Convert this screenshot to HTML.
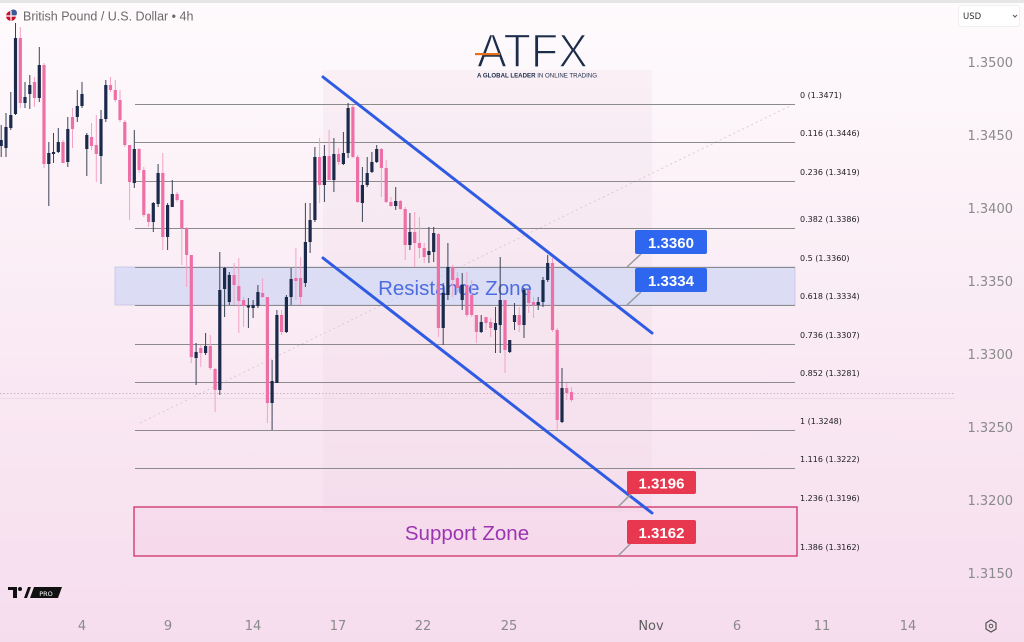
<!DOCTYPE html>
<html><head><meta charset="utf-8"><style>
html,body{margin:0;padding:0;width:1024px;height:642px;overflow:hidden;background:#fbeef5;}
svg{display:block}
</style></head><body>
<svg width="1024" height="642" viewBox="0 0 1024 642" xmlns="http://www.w3.org/2000/svg">
<defs><linearGradient id="bg" x1="0" y1="0" x2="0" y2="1"><stop offset="0" stop-color="#fefbfd"/><stop offset="0.5" stop-color="#faebf4"/><stop offset="1" stop-color="#f6ddee"/></linearGradient></defs>
<rect width="1024" height="642" fill="url(#bg)"/>
<rect width="1024" height="3" fill="#e6e6e6"/>
<!-- shaded channel area -->
<rect x="323" y="70" width="329" height="442" fill="#e8c4da" opacity="0.16"/>
<!-- resistance zone -->
<rect x="115" y="267" width="680" height="38" fill="#d9dcf6" opacity="0.9" stroke="#bcc0e4" stroke-width="0.8"/>
<!-- support zone -->
<rect x="134" y="507" width="663" height="49" fill="#f3d3e6" opacity="0.45"/>
<!-- dashed diagonal -->
<line x1="140" y1="423" x2="790" y2="106" stroke="#dccbd5" stroke-width="1" stroke-dasharray="2 3"/>
<!-- current price lines -->
<line x1="0" y1="393.5" x2="955" y2="393.5" stroke="#cdb2c2" stroke-width="1" stroke-dasharray="1.5 2"/>
<line x1="0" y1="398.5" x2="955" y2="398.5" stroke="#ecdbe5" stroke-width="1"/>
<!-- fib lines -->
<path d="M135 104.5H795M135 142.5H795M135 181.5H795M135 228.5H795M135 267.5H795M135 305.5H795M135 344.5H795M135 382.5H795M135 430.5H795M135 468.5H795" stroke="#8b8b8b" stroke-width="1" fill="none"/>
<rect x="134" y="507" width="663" height="49" fill="none" stroke="#cf2f67" stroke-width="1.3"/>
<!-- fib labels -->
<g font-family="DejaVu Sans, Liberation Sans, sans-serif" font-size="8" fill="#1c1c1c">
<text x="800" y="98">0 (1.3471)</text>
<text x="800" y="136">0.116 (1.3446)</text>
<text x="800" y="175">0.236 (1.3419)</text>
<text x="800" y="222">0.382 (1.3386)</text>
<text x="800" y="261">0.5 (1.3360)</text>
<text x="800" y="299">0.618 (1.3334)</text>
<text x="800" y="338">0.736 (1.3307)</text>
<text x="800" y="376">0.852 (1.3281)</text>
<text x="800" y="424">1 (1.3248)</text>
<text x="800" y="462">1.116 (1.3222)</text>
<text x="800" y="501">1.236 (1.3196)</text>
<text x="800" y="550">1.386 (1.3162)</text>
</g>
<!-- zone texts -->
<text x="455" y="295" text-anchor="middle" font-family="Liberation Sans, sans-serif" font-size="20.5" fill="#4c6de0">Resistance Zone</text>
<text x="467" y="540" text-anchor="middle" font-family="Liberation Sans, sans-serif" font-size="20.5" fill="#9c34b2">Support Zone</text>
<!-- wicks -->
<path fill="none" stroke="#3a4358" stroke-width="1" d="M1.2 125V157M6 113V157M10.8 92V130M15.5 23V115M25 82V108M29.8 75V109M39.3 47V102M48.8 142V206M53.5 133V163M58.3 128V153M67.8 117V167M77.3 90V122M82 82V108M86.8 133V176M101 110V184M105.8 80V122M134.3 130V188M153.3 202V232M158.1 164V207M167.6 203V250M172.3 180V207M196.1 343V385M205.6 333V355M219.8 252V395M224.6 267V317M229.3 272V305M248.4 298V328M253.1 300V318M257.9 285V308M272.1 360V430M276.9 310V383M286.4 295V333M291.1 268V305M305.4 203V287M310.1 203V253M314.9 147V222M324.4 145V202M333.9 138V192M343.4 132V165M348.1 103V158M362.4 167V222M367.2 157V187M371.9 152V173M376.7 145V163M395.7 187V210M409.9 213V250M428.9 227V263M433.7 227V262M443.2 283V345M447.9 243V300M462.2 273V310M481.2 315V333M495.5 307V353M500.2 257V353M509.7 340V353M514.5 303V330M524 288V338M538.2 297V310M543 277V307M547.7 255V282M562 368V423"/>
<path fill="none" stroke="#f2a3c6" stroke-width="1" d="M20.3 27V108M34.5 77V107M44 63V168M63 140V163M72.5 108V148M91.5 123V150M96.3 115V182M110.5 77V92M115.3 80V102M120 90V122M124.8 120V147M129.6 145V220M139.1 148V173M143.8 167V217M148.6 213V227M162.8 153V250M177.1 192V202M181.8 200V265M186.6 227V287M191.3 255V363M200.8 345V367M210.3 335V370M215.1 368V412M234.1 263V305M238.8 258V333M243.6 297V327M262.6 278V298M267.4 297V423M281.6 310V335M295.9 248V300M300.6 257V305M319.6 138V203M329.1 130V180M338.6 148V165M352.9 105V158M357.6 155V203M381.4 148V197M386.2 160V203M390.9 197V207M400.4 200V210M405.2 207V260M414.7 212V267M419.4 217V258M424.2 243V263M438.4 233V337M452.7 265V297M457.4 272V293M466.9 272V317M471.7 280V317M476.4 315V343M486 317V330M490.7 318V337M505 300V373M519.2 307V332M528.7 290V313M533.5 297V318M552.5 258V332M557.2 328V430M566.7 383V400M571.5 387V402"/>
<!-- dark bodies -->
<g fill="#1b2a4a">
<rect x="-0.4" y="140" width="3.2" height="6"/><rect x="4.4" y="127" width="3.2" height="21"/><rect x="9.2" y="115" width="3.2" height="13"/><rect x="13.9" y="38" width="3.2" height="76"/><rect x="23.4" y="97" width="3.2" height="6"/><rect x="28.2" y="85" width="3.2" height="9"/><rect x="37.7" y="65" width="3.2" height="33"/><rect x="47.2" y="153" width="3.2" height="11"/><rect x="51.9" y="152" width="3.2" height="2"/><rect x="56.7" y="142" width="3.2" height="10"/><rect x="66.2" y="129" width="3.2" height="33"/><rect x="75.7" y="106" width="3.2" height="11"/><rect x="80.4" y="94" width="3.2" height="12"/><rect x="85.2" y="135" width="3.2" height="14"/><rect x="99.4" y="119" width="3.2" height="37"/><rect x="104.2" y="85" width="3.2" height="34"/><rect x="132.7" y="149" width="3.2" height="34"/><rect x="151.7" y="203" width="3.2" height="19"/><rect x="156.5" y="173" width="3.2" height="31"/><rect x="166" y="205" width="3.2" height="32"/><rect x="170.7" y="194" width="3.2" height="13"/><rect x="194.5" y="352" width="3.2" height="6"/><rect x="204" y="346" width="3.2" height="7"/><rect x="218.2" y="290" width="3.2" height="100"/><rect x="223" y="268" width="3.2" height="21"/><rect x="227.7" y="275" width="3.2" height="27"/><rect x="246.8" y="305.5" width="3.2" height="2"/><rect x="251.5" y="305" width="3.2" height="3"/><rect x="256.3" y="292" width="3.2" height="14"/><rect x="270.5" y="381" width="3.2" height="22"/><rect x="275.3" y="315" width="3.2" height="68"/><rect x="284.8" y="297" width="3.2" height="35"/><rect x="289.5" y="279" width="3.2" height="18"/><rect x="303.8" y="242" width="3.2" height="41"/><rect x="308.5" y="220" width="3.2" height="22"/><rect x="313.3" y="157" width="3.2" height="63"/><rect x="322.8" y="156" width="3.2" height="29"/><rect x="332.3" y="154" width="3.2" height="26"/><rect x="341.8" y="153" width="3.2" height="11"/><rect x="346.5" y="108" width="3.2" height="45"/><rect x="360.8" y="185" width="3.2" height="18"/><rect x="365.6" y="173" width="3.2" height="12"/><rect x="370.3" y="162" width="3.2" height="10"/><rect x="375.1" y="149" width="3.2" height="13"/><rect x="394.1" y="201" width="3.2" height="5"/><rect x="408.3" y="232" width="3.2" height="13"/><rect x="427.3" y="251" width="3.2" height="4"/><rect x="432.1" y="233" width="3.2" height="19"/><rect x="441.6" y="293" width="3.2" height="35"/><rect x="446.3" y="267" width="3.2" height="28"/><rect x="460.6" y="285" width="3.2" height="15"/><rect x="479.6" y="322" width="3.2" height="10"/><rect x="493.9" y="323" width="3.2" height="7"/><rect x="498.6" y="300" width="3.2" height="25"/><rect x="508.1" y="340" width="3.2" height="12"/><rect x="512.9" y="315" width="3.2" height="7"/><rect x="522.4" y="290" width="3.2" height="35"/><rect x="536.6" y="302" width="3.2" height="3"/><rect x="541.4" y="280" width="3.2" height="22"/><rect x="546.1" y="263" width="3.2" height="17"/><rect x="560.4" y="388" width="3.2" height="34"/>
</g>
<!-- pink bodies -->
<g fill="#ee6ea6">
<rect x="18.7" y="38" width="3.2" height="65"/><rect x="32.9" y="82" width="3.2" height="16"/><rect x="42.4" y="65" width="3.2" height="99"/><rect x="61.4" y="142" width="3.2" height="21"/><rect x="70.9" y="117" width="3.2" height="12"/><rect x="89.9" y="137" width="3.2" height="9"/><rect x="94.7" y="145" width="3.2" height="9"/><rect x="108.9" y="85" width="3.2" height="5"/><rect x="113.7" y="90" width="3.2" height="10"/><rect x="118.4" y="100" width="3.2" height="20"/><rect x="123.2" y="122" width="3.2" height="23"/><rect x="128" y="145" width="3.2" height="37"/><rect x="137.5" y="149" width="3.2" height="21"/><rect x="142.2" y="170" width="3.2" height="45"/><rect x="147" y="214" width="3.2" height="8"/><rect x="161.2" y="173" width="3.2" height="64"/><rect x="175.5" y="194" width="3.2" height="6"/><rect x="180.2" y="200" width="3.2" height="28"/><rect x="185" y="228" width="3.2" height="27"/><rect x="189.7" y="255" width="3.2" height="102"/><rect x="199.2" y="348" width="3.2" height="5"/><rect x="208.7" y="346" width="3.2" height="22"/><rect x="213.5" y="369" width="3.2" height="21"/><rect x="232.5" y="275" width="3.2" height="10"/><rect x="237.2" y="286" width="3.2" height="15"/><rect x="242" y="300" width="3.2" height="6"/><rect x="261" y="293" width="3.2" height="4"/><rect x="265.8" y="297" width="3.2" height="106"/><rect x="280" y="315" width="3.2" height="17"/><rect x="294.3" y="278" width="3.2" height="3"/><rect x="299" y="278" width="3.2" height="19"/><rect x="318" y="157" width="3.2" height="28"/><rect x="327.5" y="156" width="3.2" height="24"/><rect x="337" y="154" width="3.2" height="8"/><rect x="351.3" y="107" width="3.2" height="50"/><rect x="356" y="157" width="3.2" height="45"/><rect x="379.8" y="149" width="3.2" height="19"/><rect x="384.6" y="168" width="3.2" height="34"/><rect x="389.3" y="202" width="3.2" height="4"/><rect x="398.8" y="201" width="3.2" height="8"/><rect x="403.6" y="209" width="3.2" height="36"/><rect x="413.1" y="232" width="3.2" height="11"/><rect x="417.8" y="243" width="3.2" height="5"/><rect x="422.6" y="248" width="3.2" height="9"/><rect x="436.8" y="234" width="3.2" height="94"/><rect x="451.1" y="267" width="3.2" height="13"/><rect x="455.8" y="278" width="3.2" height="10"/><rect x="465.3" y="285" width="3.2" height="30"/><rect x="470.1" y="295" width="3.2" height="20"/><rect x="474.8" y="315" width="3.2" height="17"/><rect x="484.4" y="317" width="3.2" height="6"/><rect x="489.1" y="322" width="3.2" height="6"/><rect x="503.4" y="300" width="3.2" height="50"/><rect x="517.6" y="315" width="3.2" height="10"/><rect x="527.1" y="290" width="3.2" height="13"/><rect x="531.9" y="302" width="3.2" height="3"/><rect x="550.9" y="263" width="3.2" height="67"/><rect x="555.6" y="330" width="3.2" height="90"/><rect x="565.1" y="388" width="3.2" height="5"/><rect x="569.9" y="392" width="3.2" height="8"/>
</g>
<!-- channel lines -->
<line x1="323" y1="77" x2="652" y2="333" stroke="#2f5be4" stroke-width="3" stroke-linecap="round"/>
<line x1="323" y1="258" x2="652" y2="513" stroke="#2f5be4" stroke-width="3" stroke-linecap="round"/>
<!-- callouts -->
<g stroke="#9a9a9a" stroke-width="1.5" fill="none">
<path d="M641 254L627 267"/><path d="M641 292L627 305"/>
<path d="M631 494L618 507"/><path d="M631 543L618 556"/>
</g>
<g font-family="Liberation Sans, sans-serif" font-size="15" font-weight="bold" fill="#fff" text-anchor="middle">
<rect x="635" y="230" width="72" height="24" rx="2" fill="#2e66ef"/><text x="671" y="248">1.3360</text>
<rect x="635" y="268" width="72" height="24" rx="2" fill="#2e66ef"/><text x="671" y="286">1.3334</text>
<rect x="627" y="471" width="69" height="23" rx="2" fill="#e8384f"/><text x="661.5" y="488.5">1.3196</text>
<rect x="627" y="520" width="69" height="24" rx="2" fill="#e8384f"/><text x="661.5" y="538">1.3162</text>
</g>
<!-- price axis -->
<g font-family="DejaVu Sans, Liberation Sans, sans-serif" font-size="13" fill="#8a8a8a" text-anchor="end">
<text x="1013" y="67">1.3500</text>
<text x="1013" y="140">1.3450</text>
<text x="1013" y="213">1.3400</text>
<text x="1013" y="286">1.3350</text>
<text x="1013" y="359">1.3300</text>
<text x="1013" y="432">1.3250</text>
<text x="1013" y="505">1.3200</text>
<text x="1013" y="578">1.3150</text>
</g>
<!-- time axis -->
<g font-family="DejaVu Sans, Liberation Sans, sans-serif" font-size="13" fill="#8a8a8a" text-anchor="middle">
<text x="82" y="630">4</text>
<text x="168" y="630">9</text>
<text x="253" y="630">14</text>
<text x="338" y="630">17</text>
<text x="423" y="630">22</text>
<text x="509" y="630">25</text>
<text x="651" y="630" fill="#5e5e5e">Nov</text>
<text x="737" y="630">6</text>
<text x="822" y="630">11</text>
<text x="908" y="630">14</text>
</g>
<!-- settings icon -->
<polygon points="991,620 996,623 996,629 991,632 986,629 986,623" fill="none" stroke="#555" stroke-width="1.2"/>
<circle cx="991" cy="626" r="1.8" fill="none" stroke="#555" stroke-width="1"/>
<!-- header -->
<circle cx="11" cy="16" r="5" fill="#c8102e"/>
<circle cx="13.5" cy="13" r="3.5" fill="#3c5a9a"/>
<path d="M6 16H16M11 11V21" stroke="#fff" stroke-width="1.2"/>
<text x="23" y="20.5" font-family="Liberation Sans, sans-serif" font-size="12.5" fill="#6a6a6a">British Pound / U.S. Dollar • 4h</text>
<!-- USD dropdown -->
<rect x="958.5" y="5.5" width="61" height="21" rx="3" fill="#ffffff" stroke="#f0f0f0"/>
<text x="963" y="19" font-family="DejaVu Sans, Liberation Sans, sans-serif" font-size="8.5" fill="#333">USD</text>
<path d="M1013 15l2 2 2-2" stroke="#555" stroke-width="1" fill="none"/>
<!-- ATFX logo -->
<text x="477" y="67" font-family="Liberation Sans, sans-serif" font-size="47" fill="#1c2d4a" stroke="#fdf8fb" stroke-width="1.4" textLength="111" lengthAdjust="spacingAndGlyphs">ATFX</text>
<rect x="475" y="53" width="25" height="2.2" fill="#e8701a"/>
<text x="477" y="77.5" font-family="Liberation Sans, sans-serif" font-size="6" fill="#1c2d4a" textLength="120" lengthAdjust="spacingAndGlyphs"><tspan font-weight="bold">A GLOBAL LEADER</tspan> IN ONLINE TRADING</text>
<!-- TV PRO logo -->
<path d="M8 587H17V598H13V590H8Z" fill="#111"/>
<circle cx="20" cy="589" r="2" fill="#111"/>
<path d="M24 598L28 587H31L27 598Z" fill="#111"/>
<path d="M34 587H62L58 598H30Z" fill="#111"/>
<text x="46" y="596" font-family="DejaVu Sans, Liberation Sans, sans-serif" font-size="6.5" fill="#fff" text-anchor="middle">PRO</text>
</svg>
</body></html>
